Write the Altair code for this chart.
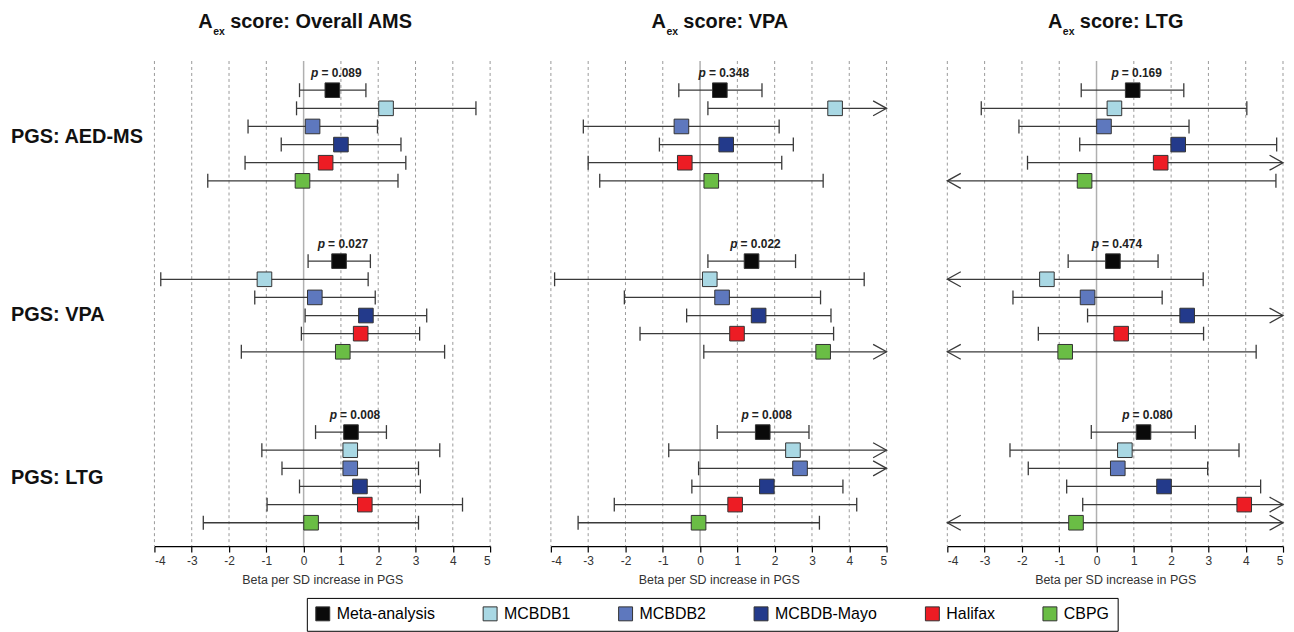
import altair as alt
import pandas as pd

# ---------------- data ----------------
panel_names = ["Overall AMS", "VPA", "LTG"]
pgs_names = ["PGS: AED-MS", "PGS: VPA", "PGS: LTG"]
cohorts = ["Meta-analysis", "MCBDB1", "MCBDB2", "MCBDB-Mayo", "Halifax", "CBPG"]
cohort_colors = ["#0a0a0a", "#a9d8e4", "#5e78be", "#233a8b", "#ed1c24", "#6abd45"]

# beta[group][cohort]; None in lo/hi = interval runs past the axis (arrow)
beta_ams = [[0.77, 2.21, 0.24, 1.00, 0.59, -0.03],
            [0.95, -1.05, 0.30, 1.67, 1.53, 1.05],
            [1.27, 1.25, 1.25, 1.51, 1.64, 0.20]]
lo_ams = [[-0.11, -0.19, -1.49, -0.60, -1.57, -2.57],
          [0.12, -3.83, -1.31, 0.04, -0.06, -1.67],
          [0.32, -1.12, -0.58, -0.11, -0.98, -2.69]]
hi_ams = [[1.67, 4.62, 1.98, 2.61, 2.74, 2.53],
          [1.79, 1.73, 1.92, 3.30, 3.11, 3.78],
          [2.22, 3.65, 3.08, 3.13, 4.26, 3.08]]

beta_vpa = [[0.53, 3.62, -0.50, 0.70, -0.41, 0.30],
            [1.38, 0.26, 0.59, 1.57, 0.99, 3.30],
            [1.68, 2.49, 2.68, 1.79, 0.94, -0.04]]
lo_vpa = [[-0.57, 0.21, -3.13, -1.09, -3.00, -2.69],
          [0.21, -3.90, -2.03, -0.36, -1.61, 0.10],
          [0.46, -0.84, -0.04, -0.22, -2.30, -3.27]]
hi_vpa = [[1.66, None, 2.12, 2.50, 2.19, 3.30],
          [2.56, 4.40, 3.23, 3.51, 3.58, None],
          [2.92, None, None, 3.83, 4.20, 3.20]]

beta_ltg = [[0.97, 0.48, 0.20, 2.19, 1.72, -0.32],
            [0.44, -1.33, -0.24, 2.43, 0.66, -0.84],
            [1.26, 0.76, 0.57, 1.81, 3.96, -0.55]]
lo_ltg = [[-0.41, -3.09, -2.08, -0.45, -1.85, None],
          [-0.76, None, -2.24, -0.24, -1.56, None],
          [-0.14, -2.32, -1.83, -0.80, -0.37, None]]
hi_ltg = [[2.34, 4.03, 2.48, 4.83, None, 4.81],
          [1.65, 2.86, 1.76, None, 2.87, 4.28],
          [2.65, 3.82, 2.98, 4.40, None, None]]

p_values = [["0.089", "0.027", "0.008"],
            ["0.348", "0.022", "0.008"],
            ["0.169", "0.474", "0.080"]]

x_ticks = [-4, -3, -2, -1, 0, 1, 2, 3, 4, 5]
axis_title = "Beta per SD increase in PGS"

BETA = [beta_ams, beta_vpa, beta_ltg]
LO = [lo_ams, lo_vpa, lo_ltg]
HI = [hi_ams, hi_vpa, hi_ltg]

# ---------------- layout ----------------
XMIN, XMAX = -4, 5
GROUP_STEP = 9.43
Y_DOMAIN = [-1.61, 25.15]
PANEL_W, PANEL_H = 337, 487
title_x = [76, 133, 133]
label_shift = [0.07, 0.45, 0.05]
FONT = "Liberation Sans"
BAR_COLOR = "#3a3a3a"

xs = alt.Scale(domain=[XMIN, XMAX], nice=False, zero=False)
ys = alt.Scale(domain=Y_DOMAIN, reverse=True, nice=False, zero=False)
xaxis = alt.Axis(values=x_ticks, grid=False, title=axis_title,
                 labelExpr="'' + datum.value",
                 domainColor="black", domainWidth=1.3, tickColor="black",
                 tickWidth=1.2, tickSize=6, labelFont=FONT, labelFontSize=12,
                 labelColor="#333333", labelPadding=3, titleFont=FONT,
                 titleFontSize=12.5, titleFontWeight="normal", titleColor="#333333",
                 titlePadding=8)


def X(field):
    return alt.X(field, type="quantitative", scale=xs, axis=xaxis)


def Y(field):
    return alt.Y(field, type="quantitative", scale=ys, axis=None)


legend = alt.Legend(orient="none", legendX=153, legendY=539, direction="horizontal",
                    columns=6, title=None, symbolType="square", symbolSize=196,
                    symbolStrokeColor="#333333", symbolStrokeWidth=1,
                    labelFont=FONT, labelFontSize=16, labelColor="black",
                    labelOffset=6, padding=8, strokeColor="black",
                    fillColor="white", columnPadding=46, gridAlign="each")


def make_panel(k):
    rows, caps, arrows_r, arrows_l, ptext = [], [], [], [], []
    for g in range(3):
        for i in range(6):
            y = g * GROUP_STEP + i
            lo, hi, b = LO[k][g][i], HI[k][g][i], BETA[k][g][i]
            rows.append(dict(group=pgs_names[g], cohort=cohorts[i], y=y, beta=b,
                             lo_d=lo if lo is not None else XMIN,
                             hi_d=hi if hi is not None else XMAX))
            for v in (lo, hi):
                if v is not None:
                    caps.append(dict(x=v, y=y))
            if hi is None:
                arrows_r.append(dict(x=XMAX, y=y))
            if lo is None:
                arrows_l.append(dict(x=XMIN, y=y))
        ptext.append(dict(x=BETA[k][g][0], y=g * GROUP_STEP, p="p",
                          rest="= " + p_values[k][g]))
    df = pd.DataFrame(rows)
    grid = pd.DataFrame({"x": [t for t in x_ticks if t != 0]})
    zero = pd.DataFrame({"x": [0]})

    layers = [
        alt.Chart(grid).mark_rule(color="#9a9a9a", strokeWidth=1, strokeDash=[3, 3])
        .encode(x=X("x")),
        alt.Chart(zero).mark_rule(color="#b0b0b0", strokeWidth=1.5).encode(x=X("x")),
        alt.Chart(df).mark_rule(color=BAR_COLOR, strokeWidth=1.3)
        .encode(x=X("lo_d"), x2="hi_d", y=Y("y")),
        alt.Chart(pd.DataFrame(caps)).mark_tick(orient="vertical", size=14, thickness=1.3,
                                                color=BAR_COLOR, opacity=1)
        .encode(x=X("x"), y=Y("y")),
    ]
    if arrows_r:
        layers.append(alt.Chart(pd.DataFrame(arrows_r)).mark_point(
            shape="M -1.8 -1 L 0 0 L -1.8 1", size=225, filled=False,
            stroke=BAR_COLOR, strokeWidth=1.3, opacity=1).encode(x=X("x"), y=Y("y")))
    if arrows_l:
        layers.append(alt.Chart(pd.DataFrame(arrows_l)).mark_point(
            shape="M 1.8 -1 L 0 0 L 1.8 1", size=225, filled=False,
            stroke=BAR_COLOR, strokeWidth=1.3, opacity=1).encode(x=X("x"), y=Y("y")))
    layers += [
        alt.Chart(df).mark_square(size=215, filled=True, stroke="#333333",
                                  strokeWidth=1, opacity=1)
        .encode(x=X("beta"), y=Y("y"),
                color=alt.Color("cohort:N", scale=alt.Scale(domain=cohorts, range=cohort_colors),
                                legend=legend)),
        alt.Chart(pd.DataFrame(ptext)).mark_text(font=FONT, fontSize=12, fontWeight="bold",
                                                 fontStyle="italic", align="right", dx=-14,
                                                 dy=-17, baseline="middle", color="#222222")
        .encode(x=X("x"), y=Y("y"), text="p:N"),
        alt.Chart(pd.DataFrame(ptext)).mark_text(font=FONT, fontSize=12, fontWeight="bold",
                                                 align="left", dx=-11, dy=-17,
                                                 baseline="middle", color="#222222")
        .encode(x=X("x"), y=Y("y"), text="rest:N"),
    ]
    one = pd.DataFrame({"a": ["A"], "s": ["ex"], "t": ["score: " + panel_names[k]]})
    S = title_x[k]
    layers += [
        alt.Chart(one).mark_text(font=FONT, fontSize=20, fontWeight="bold", align="right",
                                 baseline="alphabetic", color="#111111")
        .encode(x=alt.value(S - 17.5), y=alt.value(-33), text="a:N"),
        alt.Chart(one).mark_text(font=FONT, fontSize=10.5, fontWeight="bold", align="left",
                                 baseline="alphabetic", color="#111111")
        .encode(x=alt.value(S - 17), y=alt.value(-26), text="s:N"),
        alt.Chart(one).mark_text(font=FONT, fontSize=20, fontWeight="bold", align="left",
                                 baseline="alphabetic", color="#111111")
        .encode(x=alt.value(S), y=alt.value(-33), text="t:N"),
    ]
    if k == 0:
        lab = pd.DataFrame({"label": pgs_names,
                            "y": [g * GROUP_STEP + 2.5 + label_shift[g] for g in range(3)]})
        layers.append(alt.Chart(lab).mark_text(font=FONT, fontSize=20, fontWeight="bold",
                                               align="left", baseline="middle",
                                               color="#111111")
                      .encode(x=alt.value(-144), y=Y("y"), text="label:N"))
    return alt.layer(*layers).properties(width=PANEL_W, height=PANEL_H)


chart = alt.hconcat(make_panel(0), make_panel(1), make_panel(2),
                    spacing=61, bounds="flush").properties(
    padding={"left": 3, "top": 3, "right": 0, "bottom": 0}
).configure_view(stroke=None)

chart.save("out.html", embed_options={"renderer": "svg", "actions": False})
